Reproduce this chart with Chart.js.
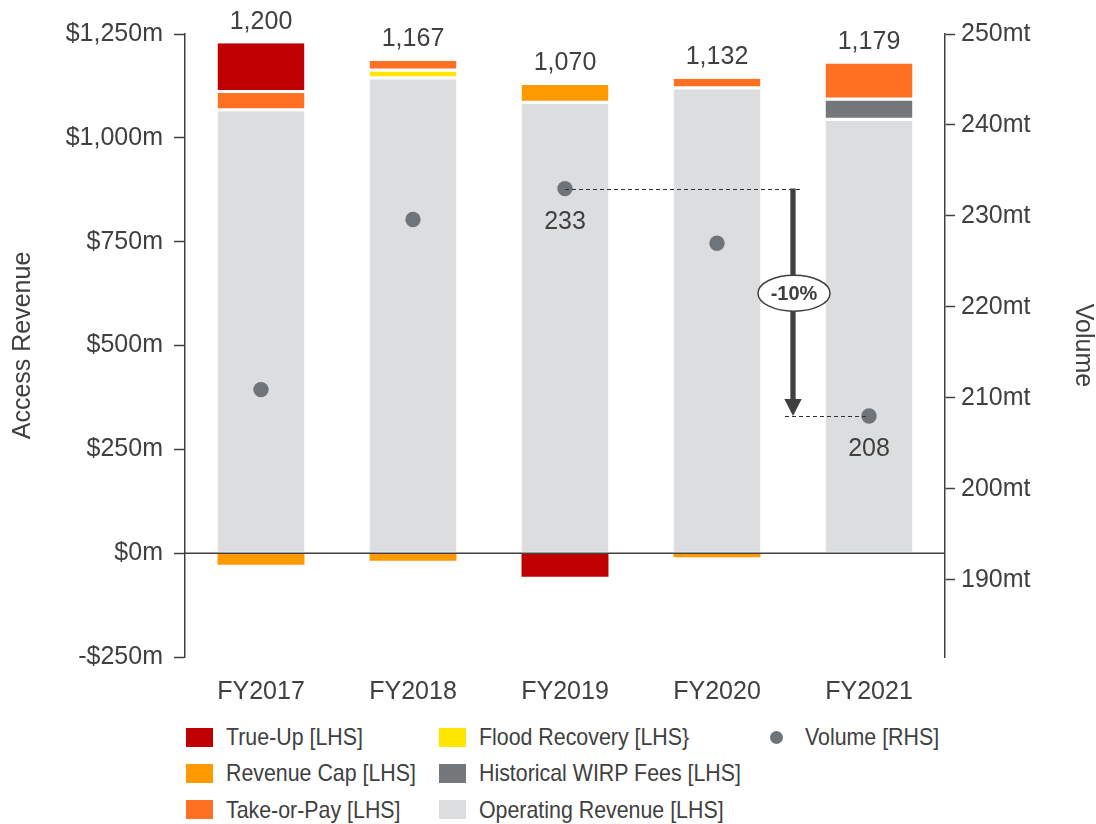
<!DOCTYPE html>
<html>
<head>
<meta charset="utf-8">
<title>Access Revenue and Volume</title>
<script src="https://cdn.jsdelivr.net/npm/chart.js@4.4.1/dist/chart.umd.min.js"></script>
<style>
  html, body { margin: 0; padding: 0; background: #ffffff; }
  #wrap { position: relative; width: 1096px; height: 824px; }
  #box { position: absolute; left: 0; top: 0; width: 1096px; height: 700px; }
  #legend {
    position: absolute; left: 186px; top: 719px;
    display: grid; grid-auto-flow: column;
    grid-template-rows: repeat(3, 36.25px);
    grid-template-columns: 253px 330.5px auto;
    font-family: "Liberation Sans", Arial, sans-serif; color: #404040;
  }
  .item { display: flex; align-items: center; white-space: nowrap; }
  .sw { width: 27px; height: 19px; margin-right: 13px; flex: none; }
  .dot { width: 13px; height: 13px; border-radius: 50%; margin-right: 22px; flex: none; }
  .txt { font-size: 24px; display: inline-block; transform: scaleX(0.89); transform-origin: left center; }
</style>
</head>
<body>
<div id="wrap">
  <div id="box"><canvas id="chart"></canvas></div>
  <div id="legend"></div>
</div>
<script>
// Access revenue by component ($m) and railed volume (mt)
const categories = ['FY2017', 'FY2018', 'FY2019', 'FY2020', 'FY2021'];
const operatingRevenue   = [1064, 1141, 1082, 1117, 1041];
const revenueCap         = [-28, -18, 45, -10, null];
const historicalWirpFees = [null, null, null, null, 49];
const floodRecovery      = [null, 19, null, null, null];
const takeOrPay          = [44, 25, null, 25, 89];
const trueUp             = [120, null, -57, null, null];
const volume             = [210.9, 229.6, 233, 227.0, 208];

const revenueTicks = [-250, 0, 250, 500, 750, 1000, 1250];
const volumeTicks  = [190, 200, 210, 220, 230, 240, 250];

// volume change call-out
const changeFrom = 'FY2019';
const changeTo   = 'FY2021';
const changeText = '-10%';

const INK = '#404040';
const FONT = '"Liberation Sans", Arial, sans-serif';
Chart.defaults.font.family = FONT;
Chart.defaults.color = INK;

// stacking order, bottom to top
const barSeries = [
  { label: 'Operating Revenue [LHS]',    data: operatingRevenue,   color: '#DCDDDF' },
  { label: 'Revenue Cap [LHS]',          data: revenueCap,         color: '#FF9900' },
  { label: 'Historical WIRP Fees [LHS]', data: historicalWirpFees, color: '#75787B' },
  { label: 'Flood Recovery [LHS}',       data: floodRecovery,      color: '#FFE600' },
  { label: 'Take-or-Pay [LHS]',          data: takeOrPay,          color: '#FF7022' },
  { label: 'True-Up [LHS]',              data: trueUp,             color: '#C00000' }
];
const volumeSeries = { label: 'Volume [RHS]', data: volume, color: '#6F7478' };

// legend reading order (column by column)
const legendOrder = [
  'True-Up [LHS]', 'Revenue Cap [LHS]', 'Take-or-Pay [LHS]',
  'Flood Recovery [LHS}', 'Historical WIRP Fees [LHS]', 'Operating Revenue [LHS]',
  'Volume [RHS]'
];

function fmtRevenue(v) {
  const s = '$' + Math.abs(v).toLocaleString('en-US') + 'm';
  return v < 0 ? '-' + s : s;
}

// white separator under each stacked segment above the base
function segmentBorder(ctx) {
  if (ctx.raw == null || ctx.raw < 0) return 0;
  return { top: 0, left: 0, right: 0, bottom: ctx.datasetIndex === 0 ? 1 : 3 };
}

const datasets = barSeries.map(s => ({
  type: 'bar',
  label: s.label,
  data: s.data,
  backgroundColor: s.color,
  borderColor: '#ffffff',
  borderWidth: segmentBorder,
  borderSkipped: false,
  barPercentage: 1,
  categoryPercentage: 0.572,
  yAxisID: 'y',
  order: 1
}));
datasets.push({
  type: 'line',
  label: volumeSeries.label,
  data: volumeSeries.data,
  showLine: false,
  pointRadius: 7.7,
  pointHoverRadius: 7.7,
  pointBackgroundColor: volumeSeries.color,
  pointBorderWidth: 0,
  yAxisID: 'y2',
  order: 0
});

const overlay = {
  id: 'overlay',
  afterDatasetsDraw(chart) {
    const { ctx, chartArea, scales: { x, y, y2 } } = chart;
    ctx.save();

    // zero line across the plot
    const y0 = y.getPixelForValue(0);
    ctx.strokeStyle = INK; ctx.lineWidth = 1.5;
    ctx.beginPath(); ctx.moveTo(chartArea.left, y0); ctx.lineTo(chartArea.right, y0); ctx.stroke();

    // net totals above each column
    ctx.fillStyle = INK; ctx.textAlign = 'center'; ctx.textBaseline = 'middle';
    ctx.font = '25px ' + FONT;
    categories.forEach((c, i) => {
      const vals = barSeries.map(s => s.data[i]).filter(v => v != null);
      const total = vals.reduce((a, b) => a + b, 0);
      const top = vals.filter(v => v > 0).reduce((a, b) => a + b, 0);
      ctx.fillText(total.toLocaleString('en-US'), x.getPixelForValue(i), y.getPixelForValue(top) - 21.5);
    });

    // volume change call-out
    const i1 = categories.indexOf(changeFrom), i2 = categories.indexOf(changeTo);
    const px1 = x.getPixelForValue(i1), px2 = x.getPixelForValue(i2);
    const py1 = y2.getPixelForValue(volume[i1]), py2 = y2.getPixelForValue(volume[i2]);
    const ax = x.getPixelForValue((i1 + i2) / 2 + 0.5);

    ctx.font = '25px ' + FONT;
    ctx.fillText(String(volume[i1]), px1, py1 + 33);
    ctx.fillText(String(volume[i2]), px2, py2 + 33);

    // crisp 1px dashed guides
    const d1 = Math.round(py1) + 0.5, d2 = Math.round(py2) + 0.5;
    ctx.strokeStyle = '#303030'; ctx.lineWidth = 1; ctx.setLineDash([4, 3]);
    ctx.beginPath(); ctx.moveTo(px1, d1); ctx.lineTo(ax + 10, d1); ctx.stroke();
    ctx.beginPath(); ctx.moveTo(ax - 8, d2); ctx.lineTo(px2, d2); ctx.stroke();
    ctx.setLineDash([]);

    const head = 17;
    ctx.strokeStyle = INK;
    ctx.lineWidth = 5.3;
    ctx.beginPath(); ctx.moveTo(ax, py1); ctx.lineTo(ax, py2 - head + 1); ctx.stroke();
    ctx.fillStyle = INK;
    ctx.beginPath();
    ctx.moveTo(ax - 8.7, py2 - head); ctx.lineTo(ax + 8.7, py2 - head); ctx.lineTo(ax, py2);
    ctx.closePath(); ctx.fill();

    const ey = py1 + (py2 - py1) * 0.46;
    ctx.beginPath(); ctx.ellipse(ax + 1, ey, 36, 18, 0, 0, Math.PI * 2);
    ctx.fillStyle = '#ffffff'; ctx.fill();
    ctx.lineWidth = 1.5; ctx.strokeStyle = INK; ctx.stroke();
    ctx.fillStyle = INK; ctx.font = 'bold 20px ' + FONT;
    ctx.fillText(changeText, ax + 1, ey + 1);

    ctx.restore();
  }
};

new Chart(document.getElementById('chart'), {
  data: { labels: categories, datasets },
  options: {
    responsive: true,
    maintainAspectRatio: false,
    animation: false,
    events: [],
    layout: { padding: { top: 34, left: 0, right: 0, bottom: 0 } },
    plugins: { legend: { display: false }, tooltip: { enabled: false } },
    scales: {
      x: {
        stacked: true,
        offset: true,
        grid: { display: false },
        border: { display: false },
        ticks: { color: INK, font: { size: 25 }, padding: 12, maxRotation: 0 },
        afterFit(s) { s.height = 43; }
      },
      y: {
        stacked: true,
        position: 'left',
        min: -250, max: 1250,
        afterBuildTicks(s) { s.ticks = revenueTicks.map(v => ({ value: v })); },
        ticks: { color: INK, font: { size: 25 }, padding: 11, callback: v => fmtRevenue(v) },
        grid: { drawOnChartArea: false, tickColor: INK, tickLength: 11, tickWidth: 1.5 },
        border: { color: INK, width: 1.5 },
        title: { display: true, text: 'Access Revenue', color: INK, font: { size: 25 }, padding: { top: 8, bottom: 0 } },
        afterFit(s) { s.width = 185; }
      },
      y2: {
        position: 'right',
        min: 181.5, max: 250,
        afterBuildTicks(s) { s.ticks = volumeTicks.map(v => ({ value: v })); },
        ticks: { color: INK, font: { size: 25 }, padding: 6, callback: v => v + 'mt' },
        grid: { drawOnChartArea: false, tickColor: INK, tickLength: 10, tickWidth: 1.5 },
        border: { color: INK, width: 1.5 },
        title: { display: true, text: 'Volume', color: INK, font: { size: 25 }, padding: { top: -2, bottom: 0 } },
        afterFit(s) { s.width = 151; }
      }
    }
  },
  plugins: [overlay]
});

// legend, laid out in three columns
const legend = document.getElementById('legend');
legendOrder.forEach(name => {
  const bar = barSeries.find(s => s.label === name);
  const item = document.createElement('div');
  item.className = 'item';
  const sw = document.createElement('span');
  sw.className = bar ? 'sw' : 'dot';
  sw.style.background = bar ? bar.color : volumeSeries.color;
  const t = document.createElement('span');
  t.className = 'txt';
  t.textContent = name;
  item.appendChild(sw); item.appendChild(t);
  legend.appendChild(item);
});
</script>
</body>
</html>
